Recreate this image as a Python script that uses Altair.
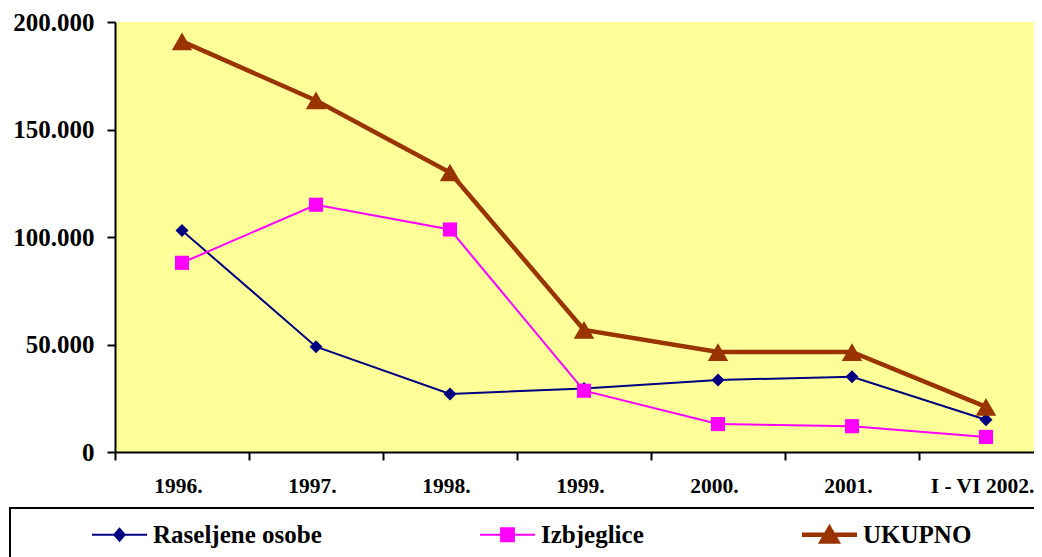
import altair as alt
import pandas as pd

years = ["1996.", "1997.", "1998.", "1999.", "2000.", "2001.", "I - VI 2002."]
series_names = ["Raseljene osobe", "Izbjeglice", "UKUPNO"]
raseljene = [103000, 49000, 27000, 29500, 33500, 35000, 15000]
izbjeglice = [88000, 115000, 103500, 28500, 13000, 12000, 7000]
ukupno = [191000, 163500, 130000, 56800, 46500, 46500, 21000]
y_ticks = [0, 50000, 100000, 150000, 200000]

colors = ["#000080", "#FF00FF", "#993300"]
line_widths = [2, 2, 4.5]
marker_shapes = ["diamond", "square", "triangle-up"]
marker_sizes = [170, 200, 420]
legend_paths = [
    "M-1,-0.036H1V0.036H-1Z M0,-0.27L0.236,0L0,0.27L-0.236,0Z",
    "M-1,-0.036H1V0.036H-1Z M-0.27,-0.27H0.27V0.27H-0.27Z",
    "M-1,-0.082H1V0.082H-1Z M0,-0.4L0.42,0.33H-0.42Z",
]

rows = []
for name, vals in zip(series_names, [raseljene, izbjeglice, ukupno]):
    for yr, v in zip(years, vals):
        rows.append({"year": yr, "value": v, "series": name})
df = pd.DataFrame(rows)

FONT = "Liberation Serif"

x_enc = alt.X(
    "year:N",
    sort=years,
    scale=alt.Scale(domain=years, paddingInner=0, paddingOuter=0),
    axis=alt.Axis(
        title=None, labelAngle=0, tickBand="extent", grid=False,
        domainColor="black", domainWidth=2, tickColor="black", tickWidth=2,
        tickSize=8, labelPadding=15, labelFont=FONT, labelFontSize=21.5,
        labelFontWeight="bold", labelColor="black", labelBaseline="top",
        labelOffset=-4,
    ),
)
y_enc = alt.Y(
    "value:Q",
    scale=alt.Scale(domain=[0, 200000], nice=False),
    axis=alt.Axis(
        title=None, values=y_ticks, grid=False,
        labelExpr="replace(format(datum.value, ','), ',', '.')",
        domainColor="black", domainWidth=2, tickColor="black", tickWidth=2,
        tickSize=8, labelPadding=13, labelFont=FONT, labelFontSize=25,
        labelFontWeight="bold", labelColor="black",
    ),
)

base = alt.Chart(df)
layers = []
for i, name in enumerate(series_names):
    sub = base.transform_filter(alt.datum.series == name)
    layers.append(
        sub.mark_line(color=colors[i], strokeWidth=line_widths[i]).encode(x=x_enc, y=y_enc)
    )
for i, name in enumerate(series_names):
    sub = base.transform_filter(alt.datum.series == name)
    layers.append(
        sub.mark_point(
            filled=True, opacity=1, color=colors[i], shape=marker_shapes[i],
            size=marker_sizes[i], strokeWidth=0,
        ).encode(x=x_enc, y=y_enc)
    )

legend_cfg = alt.Legend(
    orient="none", legendX=-23, legendY=485, direction="horizontal", title=None,
    symbolSize=3025, symbolStrokeWidth=0, labelFont=FONT, labelFontSize=25,
    labelFontWeight="bold", labelColor="black", labelOffset=6,
    columnPadding=158, padding=0, labelLimit=400,
)
legend_layer = base.transform_filter("false").mark_point(filled=True, opacity=1).encode(
    color=alt.Color("series:N", scale=alt.Scale(domain=series_names, range=colors), legend=legend_cfg),
    shape=alt.Shape("series:N", scale=alt.Scale(domain=series_names, range=legend_paths), legend=legend_cfg),
)

box = alt.Chart(alt.Data(values=[{"a": 1}])).mark_rect(
    fill="transparent", stroke="black", strokeWidth=2
).encode(
    x=alt.value(-105), x2=alt.value(960), y=alt.value(486), y2=alt.value(600)
)

chart = alt.layer(box, *layers, legend_layer).properties(
    width=938, height=430,
    autosize=alt.AutoSizeParams(type="none"),
    padding={"left": 107, "top": 14, "right": -19, "bottom": 105},
    background="white",
    view=alt.ViewBackground(fill="#FFFF99", strokeWidth=0),
).configure_view(fill="#FFFF99", strokeWidth=0)

chart.save("out.html", embed_options={"renderer": "svg", "actions": False})
